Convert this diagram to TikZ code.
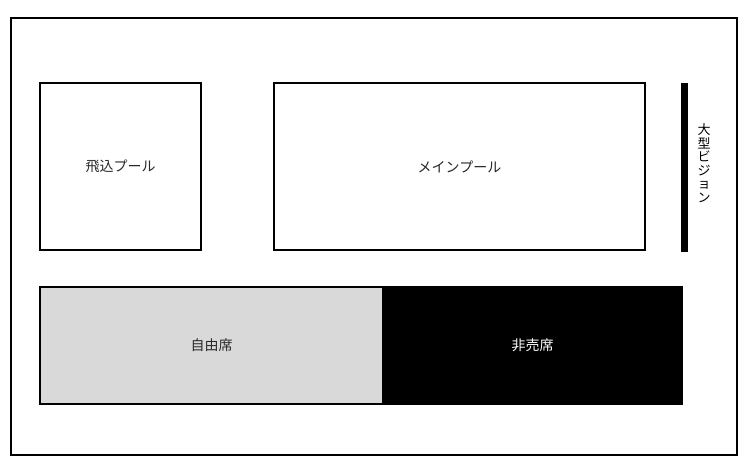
\documentclass[tikz,border=0pt]{standalone}
\usepackage{fontspec}
\newfontfamily\jp{Noto Sans CJK JP}
\usepackage{tikz}

\begin{document}
\begin{tikzpicture}
    [x=1pt,y=-1pt,every node/.style={rectangle,inner sep=0pt,outer sep=0pt,font=\jp\fontsize{14}{15}\selectfont},
     area/.style={draw,line width=1.2pt,text=black!85}]
    \useasboundingbox (0,0) rectangle (750,470);
    \draw[line width=1.6pt] (11,18) rectangle (737,455);

    \node[area,minimum width=161pt,minimum height=167pt] (dive) at (120.5,166.5) {飛込プール};
    \node[area,minimum width=371pt,minimum height=167pt] (main) at (459.5,166.5) {メインプール};
    \node[fill=black,minimum width=7pt,minimum height=169pt] (vision) at (684.5,167.5) {};
    \node[align=center,font=\jp\fontsize{13}{13.5}\selectfont] (visionlabel) at (704,163) {大\\型\\ビ\\ジ\\ョ\\ン};

    \node[area,fill=black!15,minimum width=343pt,minimum height=117pt] (free) at (211.5,345.5) {自由席};
    \node[area,fill=black,text=white,minimum width=299pt,minimum height=117pt] (unsold) at (532.5,345.5) {非売席};
\end{tikzpicture}
\end{document}
